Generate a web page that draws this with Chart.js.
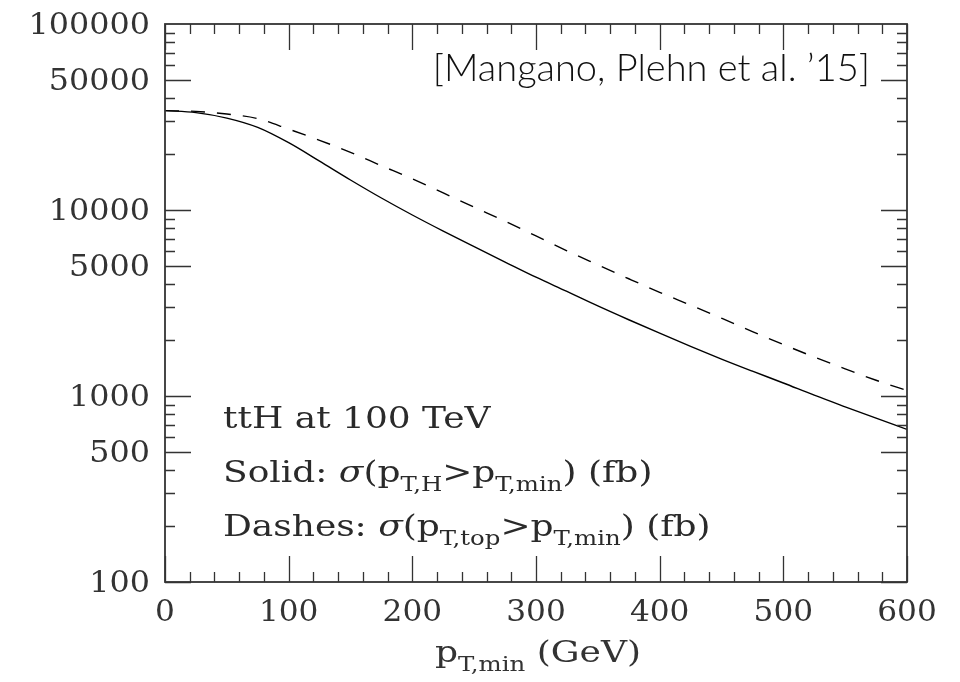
<!DOCTYPE html>
<html>
<head>
<meta charset="utf-8">
<script src="https://cdn.jsdelivr.net/npm/chart.js@4/dist/chart.umd.min.js"></script>
<style>
  html, body { margin: 0; padding: 0; background: #fff; }
  #wrap { width: 960px; height: 682px; position: relative; }
</style>
</head>
<body>
<div id="wrap"><canvas id="xsec"></canvas></div>
<script>
// pT,min cut (GeV)
const pTmin = [0, 25, 50, 75, 100, 125, 150, 175, 200, 225, 250, 275, 300,
               325, 350, 375, 400, 425, 450, 475, 500, 525, 550, 575, 600];
// sigma(pT,H > pT,min) in fb  -- solid
const sigmaHiggs = [34200, 33400, 31200, 27800, 23000, 18300, 14500, 11600, 9400, 7700, 6350, 5250, 4350,
                    3650, 3050, 2570, 2175, 1850, 1580, 1360, 1175, 1010, 875, 760, 661];
// sigma(pT,top > pT,min) in fb  -- dashes
const sigmaTop = [34200, 33900, 32800, 31000, 27200, 23700, 20400, 17300, 14700, 12350, 10350, 8700, 7250,
                  6030, 5070, 4270, 3610, 3080, 2620, 2220, 1890, 1620, 1400, 1215, 1070];

const yLabels = [100, 500, 1000, 5000, 10000, 50000, 100000];
const xLabels = [0, 100, 200, 300, 400, 500, 600];

const CM = 'DejaVu Serif';

// draws a run of text pieces (plain / italic / subscript), stretched sideways by k
function drawRich(ctx, parts, x, y, size, k) {
  ctx.save();
  ctx.translate(x, y);
  ctx.scale(k, 1);
  let cx = 0;
  for (const p of parts) {
    const s = p.sub ? size * 0.68 : size;
    ctx.font = (p.it ? 'italic ' : '') + s + 'px "' + CM + '"';
    ctx.fillText(p.t, cx, p.sub ? size * 0.3 : 0);
    cx += ctx.measureText(p.t).width;
  }
  ctx.restore();
}

function drawStretched(ctx, text, x, y, k) {
  ctx.save();
  ctx.translate(x, y);
  ctx.scale(k, 1);
  ctx.fillText(text, 0, 0);
  ctx.restore();
}

const framePlugin = {
  id: 'frame',
  afterDraw(chart) {
    const { ctx, chartArea: a, scales } = chart;
    const xs = scales.x, ys = scales.y;
    ctx.save();
    ctx.strokeStyle = '#333';
    ctx.lineWidth = 1.8;
    ctx.strokeRect(a.left, a.top, a.right - a.left, a.bottom - a.top);

    // tick marks on all four sides, pointing inwards
    ctx.lineWidth = 1.3;
    ctx.beginPath();
    for (let v = 0; v <= 600; v += 20) {
      const px = Math.round(xs.getPixelForValue(v)) + 0.5;
      const len = v % 100 === 0 ? 26 : 10;
      ctx.moveTo(px, a.bottom); ctx.lineTo(px, a.bottom - len);
      ctx.moveTo(px, a.top); ctx.lineTo(px, a.top + len);
    }
    for (let dec = 100; dec < 100000; dec *= 10) {
      for (let m = 1; m <= 9; m++) {
        const py = Math.round(ys.getPixelForValue(m * dec)) + 0.5;
        const len = (m === 1 || m === 5) ? 26 : 10;
        ctx.moveTo(a.left, py); ctx.lineTo(a.left + len, py);
        ctx.moveTo(a.right, py); ctx.lineTo(a.right - len, py);
      }
    }
    ctx.stroke();

    // tick labels
    ctx.fillStyle = '#333';
    ctx.font = '30px "' + CM + '"';
    ctx.textAlign = 'right';
    ctx.textBaseline = 'middle';
    yLabels.forEach(v => drawStretched(ctx, String(v), a.left - 15, ys.getPixelForValue(v) + 2, 1.06));
    ctx.textAlign = 'center';
    xLabels.forEach(v => drawStretched(ctx, String(v), xs.getPixelForValue(v), a.bottom + 31, 1.04));

    // axis title
    ctx.textAlign = 'left';
    ctx.textBaseline = 'alphabetic';
    drawRich(ctx, [{ t: 'p' }, { t: 'T,min', sub: true }, { t: ' (GeV)' }], 435, 662, 30, 1.2);

    // process / legend text
    ctx.fillStyle = '#2a2a2a';
    drawRich(ctx, [{ t: 'ttH at 100 TeV' }], 223, 428, 29, 1.24);
    drawRich(ctx, [{ t: 'Solid: ' }, { t: 'σ', it: true }, { t: '(p' }, { t: 'T,H', sub: true },
                   { t: '>p' }, { t: 'T,min', sub: true }, { t: ') (fb)' }], 223, 482, 29, 1.24);
    drawRich(ctx, [{ t: 'Dashes: ' }, { t: 'σ', it: true }, { t: '(p' }, { t: 'T,top', sub: true },
                   { t: '>p' }, { t: 'T,min', sub: true }, { t: ') (fb)' }], 223, 536, 29, 1.24);

    // reference tag
    ctx.fillStyle = '#111';
    ctx.font = '300 38px Lato';
    ctx.textAlign = 'right';
    ctx.fillText('[Mangano, Plehn et al. \u201915]', 870, 81);
    ctx.restore();
  }
};

new Chart(document.getElementById('xsec'), {
  type: 'line',
  data: {
    datasets: [
      {
        label: 'Solid',
        data: pTmin.map((x, i) => ({ x, y: sigmaHiggs[i] })),
        borderColor: '#000',
        borderWidth: 1.4,
        pointRadius: 0,
        cubicInterpolationMode: 'monotone'
      },
      {
        label: 'Dashes',
        data: pTmin.map((x, i) => ({ x, y: sigmaTop[i] })),
        borderColor: '#000',
        borderWidth: 1.4,
        borderDash: [14, 12],
        pointRadius: 0,
        cubicInterpolationMode: 'monotone'
      }
    ]
  },
  options: {
    responsive: true,
    maintainAspectRatio: false,
    animation: false,
    layout: { padding: { top: 24, right: 53, left: 0, bottom: 0 } },
    plugins: { legend: { display: false }, tooltip: { enabled: false } },
    scales: {
      x: {
        type: 'linear', min: 0, max: 600,
        grid: { display: false }, border: { display: false },
        ticks: { display: false },
        afterFit: s => { s.height = 100; }
      },
      y: {
        type: 'logarithmic', min: 100, max: 100000,
        grid: { display: false }, border: { display: false },
        ticks: { display: false },
        afterFit: s => { s.width = 165; }
      }
    }
  },
  plugins: [framePlugin]
});
</script>
</body>
</html>
